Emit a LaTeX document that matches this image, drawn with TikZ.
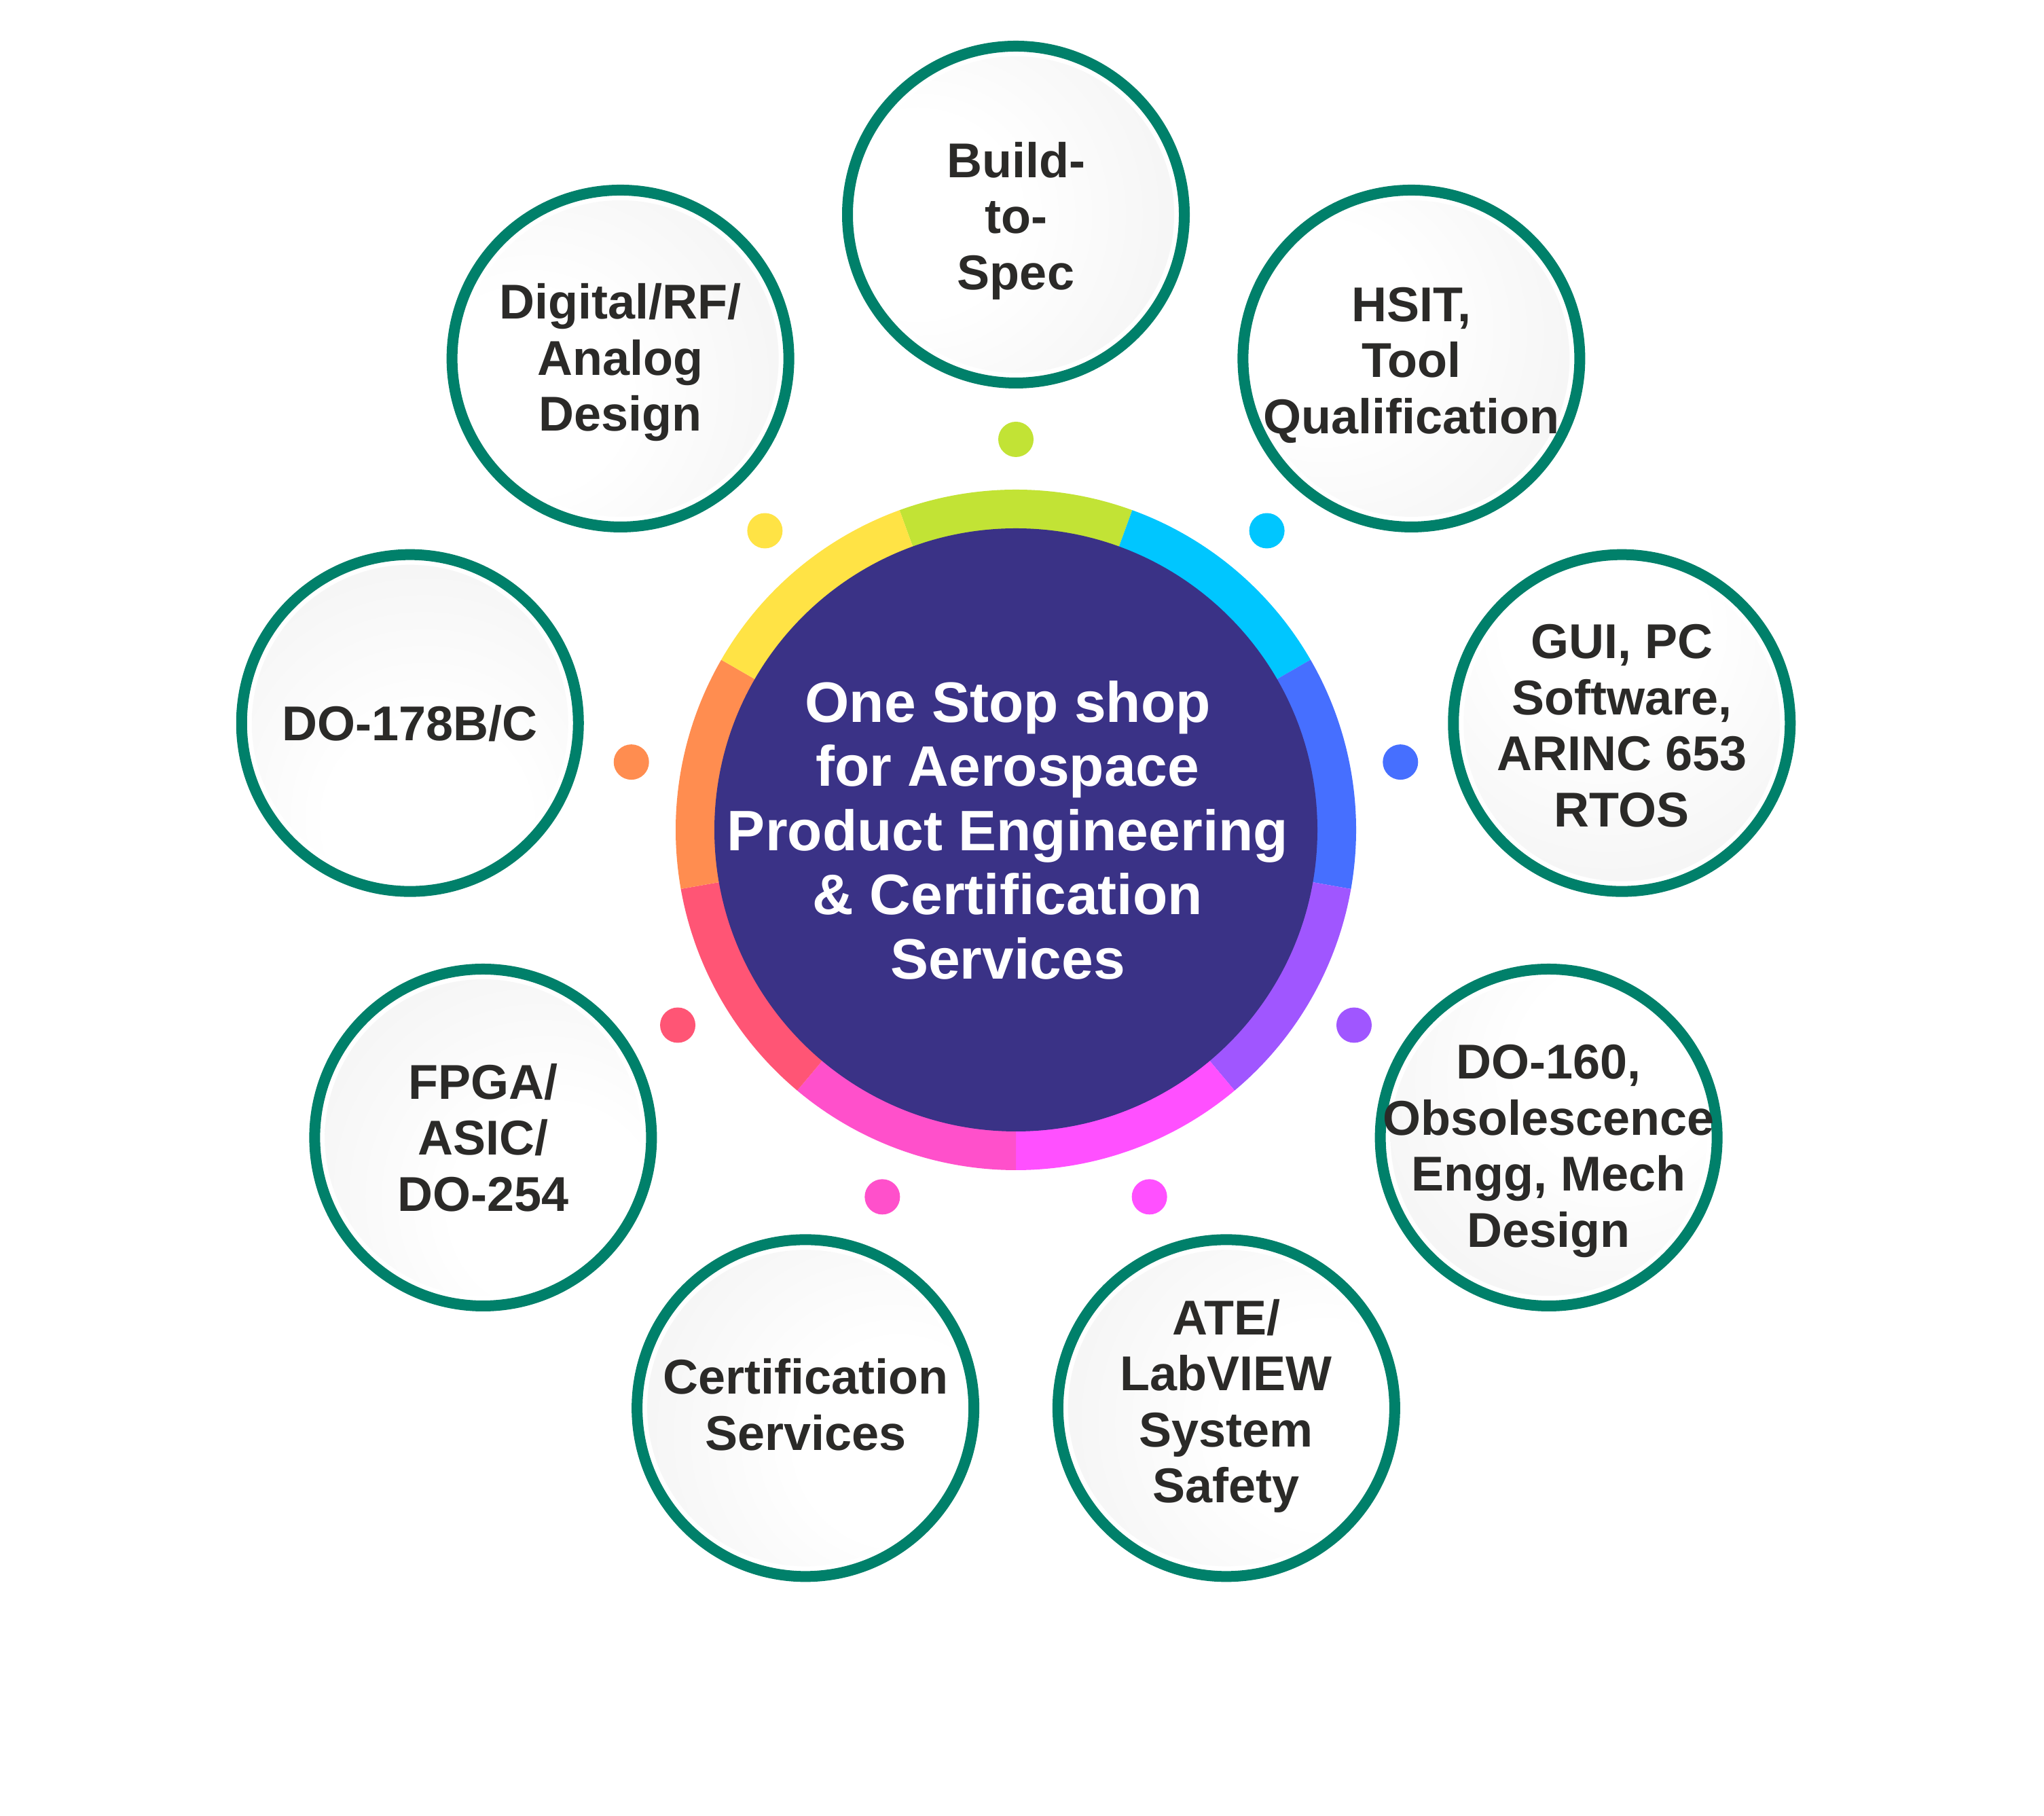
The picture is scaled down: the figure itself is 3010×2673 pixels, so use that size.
\documentclass[tikz,border=0pt]{standalone}
\usepackage{fontspec}
\setmainfont{Liberation Sans}
\usetikzlibrary{calc}
\definecolor{ringstroke}{HTML}{00806A}
\definecolor{hubdark}{HTML}{3A3286}
\definecolor{labeltext}{HTML}{2B2A28}
\definecolor{bubblegray}{HTML}{E6E6E6}
\definecolor{ringyellow}{HTML}{FFE345}
\definecolor{ringgreen}{HTML}{C2E335}
\definecolor{ringcyan}{HTML}{00C6FF}
\definecolor{ringblue}{HTML}{466FFF}
\definecolor{ringpurple}{HTML}{A056FF}
\definecolor{ringmagenta}{HTML}{FF50FF}
\definecolor{ringpink}{HTML}{FF50CB}
\definecolor{ringred}{HTML}{FF5575}
\definecolor{ringorange}{HTML}{FF8D50}
\pgfdeclareradialshading{bubbleshade}{\pgfpoint{-13bp}{13bp}}{color(0bp)=(white); color(15bp)=(white); color(66bp)=(bubblegray); color(80bp)=(bubblegray)}
\begin{document}
\begin{tikzpicture}[x=1pt,y=1pt,
  bubble/.style={circle, draw=ringstroke, line width=16pt, minimum size=496pt, inner sep=0pt,
    path picture={\shade[shading=bubbleshade, shading angle=#1] (path picture bounding box.center) circle (233pt);}},
  bubbletext/.style={align=center, text=labeltext, font=\fontsize{72}{82.5}\selectfont\bfseries, inner sep=0pt},
  spot/.style={circle, minimum size=52pt, inner sep=0pt}]
\useasboundingbox (0,0) rectangle (3010,2673);
\fill[white] (0,0) rectangle (3010,2673);
\coordinate (C) at (1496,1451);
% coloured ring
\begin{scope}[shift={(1496,1451)}]
\foreach \a/\c in {90/ringgreen, 50/ringcyan, 10/ringblue, -30/ringpurple, -70/ringmagenta, -110/ringpink, -150/ringred, 170/ringorange, 130/ringyellow}{
  \fill[\c] (\a-20:501pt) arc[start angle=\a-20, end angle=\a+20, radius=501pt]
     -- (\a+20:430pt) arc[start angle=\a+20, end angle=\a-20, radius=430pt] -- cycle;
}
\end{scope}
\node[circle, fill=hubdark, minimum size=888pt, inner sep=0pt] (hub) at (C) {};
\node[align=center, text=white, font=\fontsize{84}{94.5}\selectfont\bfseries, inner sep=0pt] (hubtext) at ([xshift=-12pt]C)
  {One Stop shop\\for Aerospace\\Product Engineering\\\& Certification\\Services};
% small dots
\node[spot, fill=ringgreen]   (s1) at ($(C)+(90:575pt)$) {};
\node[spot, fill=ringcyan]    (s2) at ($(C)+(50:575pt)$) {};
\node[spot, fill=ringblue]    (s3) at ($(C)+(10:575pt)$) {};
\node[spot, fill=ringpurple]  (s4) at ($(C)+(-30:575pt)$) {};
\node[spot, fill=ringmagenta] (s5) at ($(C)+(-70:575pt)$) {};
\node[spot, fill=ringpink]    (s6) at ($(C)+(-110:575pt)$) {};
\node[spot, fill=ringred]     (s7) at ($(C)+(-150:575pt)$) {};
\node[spot, fill=ringorange]  (s8) at ($(C)+(170:575pt)$) {};
\node[spot, fill=ringyellow]  (s9) at ($(C)+(130:575pt)$) {};
% bubbles
\node[bubble=45]   (b1) at ($(C)+(90:906pt)$) {};
\node[bubble=25]   (b2) at ($(C)+(50:906pt)$) {};
\node[bubble=-35]  (b3) at ($(C)+(10:906pt)$) {};
\node[bubble=-90]  (b4) at ($(C)+(-30:906pt)$) {};
\node[bubble=-145] (b5) at ($(C)+(-70:906pt)$) {};
\node[bubble=-155] (b6) at ($(C)+(-110:906pt)$) {};
\node[bubble=180]  (b7) at ($(C)+(-150:906pt)$) {};
\node[bubble=145]  (b8) at ($(C)+(170:906pt)$) {};
\node[bubble=65]   (b9) at ($(C)+(130:906pt)$) {};
\node[bubbletext] (t1) at ([yshift=-9pt]b1.center) {Build-\\to-\\Spec};
\node[bubbletext] (t2) at ([yshift=-10pt]b2.center) {HSIT,\\Tool\\Qualification};
\node[bubbletext] (t3) at ([yshift=-4pt]b3.center) {GUI, PC\\Software,\\ARINC 653\\RTOS};
\node[bubbletext] (t4) at ([yshift=-20pt]b4.center) {DO-160,\\Obsolescence\\Engg, Mech\\Design};
\node[bubbletext] (t5) at ([yshift=3pt]b5.center) {ATE/\\LabVIEW\\System\\Safety};
\node[bubbletext] (t6) at ([yshift=5pt]b6.center) {Certification\\Services};
\node[bubbletext] (t7) at (b7.center) {FPGA/\\ASIC/\\DO-254};
\node[bubbletext] (t8) at (b8.center) {DO-178B/C};
\node[bubbletext] (t9) at ([yshift=-6pt]b9.center) {Digital/RF/\\Analog\\Design};
\end{tikzpicture}
\end{document}
